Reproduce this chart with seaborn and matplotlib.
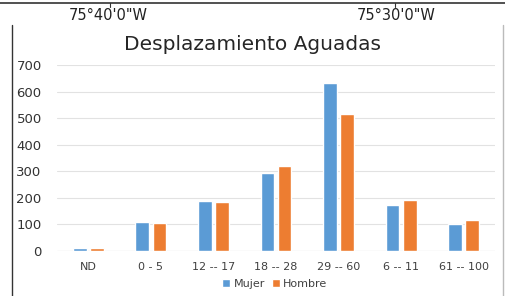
import matplotlib
matplotlib.use("Agg")
import matplotlib.pyplot as plt
import seaborn as sns
import pandas as pd
from matplotlib.lines import Line2D

categories = ["ND", "0 - 5", "12 -- 17", "18 -- 28", "29 -- 60", "6 -- 11", "61 -- 100"]
mujer = [12, 109, 188, 292, 631, 172, 103]
hombre = [10, 105, 186, 320, 517, 191, 115]
series = ["Mujer", "Hombre"]
colors = ["#5B9BD5", "#ED7D31"]
yticks = [0, 100, 200, 300, 400, 500, 600, 700]

df = pd.DataFrame({
    "cat": categories * 2,
    "val": mujer + hombre,
    "serie": [series[0]] * len(categories) + [series[1]] * len(categories),
})

sns.set_theme(style="white")
plt.rcParams["font.family"] = ["DejaVu Sans"]

fig = plt.figure(figsize=(5.06, 2.96), dpi=100)
ax = fig.add_axes([57/506, 1-251/296, (495-57)/506, (251-65)/296])

sns.barplot(data=df, x="cat", y="val", hue="serie", palette=colors, ax=ax,
            width=0.55, gap=0.2, saturation=1, legend=True)

ax.set_ylim(0, 700)
ax.set_yticks(yticks)
ax.set_xlim(-0.5, len(categories) - 0.5)
ax.yaxis.grid(True, color="#E2E2E2", linewidth=0.8)
ax.set_axisbelow(True)
for s in ax.spines.values():
    s.set_visible(False)
ax.axhline(0, color="#D9D9D9", linewidth=0.8, zorder=0)
ax.set_xlabel("")
ax.set_ylabel("")
ax.tick_params(axis="y", labelsize=9.5, colors="#333333", length=0, pad=11)
ax.tick_params(axis="x", labelsize=8, colors="#404040", length=0, pad=8)

leg = ax.legend(loc="center", bbox_to_anchor=(0.497, -0.176), ncol=2, frameon=False,
                fontsize=8, handlelength=0.75, handleheight=0.75, handletextpad=0.3,
                columnspacing=0.6, labelcolor="#404040", borderaxespad=0)

fig.text(253/506, 1-45/296, "Desplazamiento Aguadas", ha="center", va="center",
         fontsize=14.5, color="#262626")

# map frame elements
fig.add_artist(Line2D([0, 1], [1-3/296, 1-3/296], color="#333333", linewidth=1.2))
for xx in [110, 395]:
    fig.add_artist(Line2D([xx/506, xx/506], [1-3/296, 1-7/296], color="#333333", linewidth=0.8))
fig.text(108/506, 1-15/296, "75°40'0\"W", ha="center", va="center", fontsize=10.5, color="#222222")
fig.text(396/506, 1-15/296, "75°30'0\"W", ha="center", va="center", fontsize=10.5, color="#222222")
fig.add_artist(Line2D([12/506, 12/506], [0, 1-25/296], color="#333333", linewidth=1.0))
fig.add_artist(Line2D([503/506, 503/506], [0, 1-25/296], color="#BBBBBB", linewidth=1.0))

fig.savefig("out.png", dpi=100)
